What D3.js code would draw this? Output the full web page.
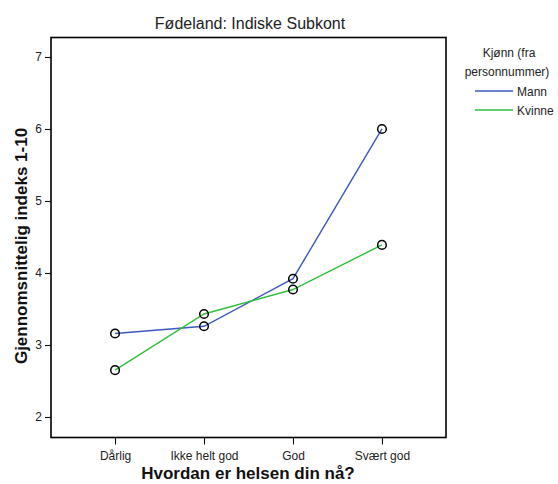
<!DOCTYPE html>
<html><head><meta charset="utf-8">
<script src="https://cdn.jsdelivr.net/npm/d3@7"></script>
<style>body{margin:0;background:#fff}svg{display:block;font-family:"Liberation Sans",Arial,sans-serif}</style>
</head><body><svg id="c" width="558" height="484"></svg>
<script>
const categories = ["Dårlig", "Ikke helt god", "God", "Svært god"];
const mann = [3.16, 3.26, 3.92, 6.0];
const kvinne = [2.65, 3.43, 3.77, 4.39];
const seriesNames = ["Mann", "Kvinne"];
const yTicks = [2, 3, 4, 5, 6, 7];
const colors = ["#3c58bd", "#2fbf3c"];

const svg = d3.select("#c");
const FF = "Liberation Sans, Arial, sans-serif";
const L = 51, R = 446, T = 37.5, B = 437.5;
const x = d3.scalePoint().domain(categories).range([L, R]).padding(0.72);
const y = d3.scaleLinear().domain([1.715, 7.27]).range([B, T]);

// frame
svg.append("rect").attr("x", L).attr("y", T).attr("width", R - L).attr("height", B - T)
  .attr("fill", "none").attr("stroke", "#000").attr("stroke-width", 1.6);

// y axis
const ya = svg.append("g").attr("transform", `translate(${L},0)`)
  .call(d3.axisLeft(y).tickValues(yTicks).tickSize(6).tickPadding(3).tickFormat(d3.format("d")));
ya.select(".domain").remove();
ya.selectAll("text").attr("font-size", 12).attr("fill", "#222").attr("font-family", FF);
ya.selectAll("line").attr("stroke", "#000");

// x axis
const xa = svg.append("g").attr("transform", `translate(0,${B})`)
  .call(d3.axisBottom(x).tickSize(7).tickPadding(7));
xa.select(".domain").remove();
xa.selectAll("text").attr("font-size", 12).attr("fill", "#222").attr("font-family", FF);
xa.selectAll("line").attr("stroke", "#000");

// title
svg.append("text").attr("x", 250).attr("y", 29).attr("text-anchor", "middle")
  .attr("font-size", 16).attr("fill", "#222").text("Fødeland: Indiske Subkont");

// axis titles
svg.append("text").attr("x", 248).attr("y", 479).attr("text-anchor", "middle")
  .attr("font-size", 17).attr("font-weight", "bold").attr("fill", "#111").text("Hvordan er helsen din nå?");
svg.append("text").attr("transform", "translate(27,246) rotate(-90)").attr("text-anchor", "middle")
  .attr("font-size", 17).attr("font-weight", "bold").attr("fill", "#111").text("Gjennomsnittelig indeks 1-10");

// series
const data = [mann, kvinne];
const line = d3.line().x((d, i) => x(categories[i])).y(d => y(d));
data.forEach((s, k) => {
  svg.append("path").datum(s).attr("d", line).attr("fill", "none")
    .attr("stroke", colors[k]).attr("stroke-width", 1.4);
});
data.forEach((s, k) => {
  svg.selectAll(null).data(s).enter().append("circle")
    .attr("cx", (d, i) => x(categories[i])).attr("cy", d => y(d)).attr("r", 4.3)
    .attr("fill", "none").attr("stroke", "#000").attr("stroke-width", 1.5);
});

// legend
const lg = svg.append("g");
lg.append("text").attr("x", 509).attr("y", 57).attr("text-anchor", "middle").attr("font-size", 12).attr("fill", "#222").text("Kjønn (fra");
lg.append("text").attr("x", 507).attr("y", 76).attr("text-anchor", "middle").attr("font-size", 12).attr("fill", "#222").text("personnummer)");
seriesNames.forEach((n, k) => {
  const yy = 91 + k * 19;
  lg.append("line").attr("x1", 475).attr("x2", 513).attr("y1", yy).attr("y2", yy).attr("stroke", colors[k]).attr("stroke-width", 1.4);
  lg.append("text").attr("x", 517).attr("y", yy + 4.5).attr("font-size", 12).attr("fill", "#222").text(n);
});
</script></body></html>
